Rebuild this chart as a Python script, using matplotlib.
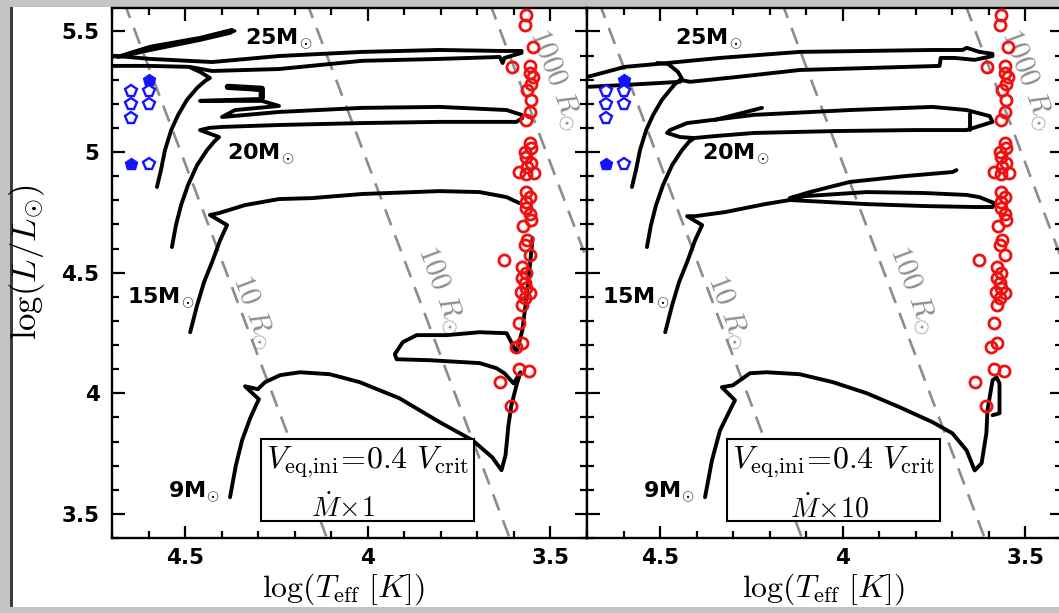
import numpy as np
import matplotlib
matplotlib.use('Agg')
import matplotlib.pyplot as plt
from matplotlib.patches import Rectangle, Polygon
from matplotlib.ticker import MultipleLocator, FixedLocator, FixedFormatter

plt.rcParams['mathtext.fontset'] = 'cm'
plt.rcParams['font.family'] = ['DejaVu Sans']
plt.rcParams['font.weight'] = 'bold'

# ------------------------------------------------------------------ data
# observed red supergiants (log Teff, log L)
rsg_logT = [3.568, 3.571, 3.549, 3.604, 3.557, 3.549, 3.557, 3.552, 3.563, 3.552,
            3.557, 3.566, 3.557, 3.552, 3.571, 3.566, 3.552, 3.563, 3.544, 3.585,
            3.566, 3.568, 3.557, 3.568, 3.568, 3.555, 3.552, 3.574, 3.563, 3.571,
            3.557, 3.626, 3.577, 3.566, 3.579, 3.571, 3.566, 3.582, 3.557, 3.571,
            3.577, 3.585, 3.593, 3.579, 3.585, 3.560, 3.637, 3.607]
rsg_logL = [5.568, 5.527, 5.436, 5.353, 5.357, 5.311, 5.328, 5.282, 5.257, 5.216,
            5.166, 5.133, 5.037, 5.017, 5.000, 4.979, 4.954, 4.938, 4.913, 4.917,
            4.909, 4.834, 4.813, 4.793, 4.768, 4.743, 4.718, 4.693, 4.635, 4.614,
            4.573, 4.552, 4.523, 4.498, 4.477, 4.456, 4.436, 4.419, 4.415, 4.394,
            4.365, 4.290, 4.191, 4.207, 4.100, 4.091, 4.046, 3.946]

# blue stars: filled and open pentagons
blue_filled_logT = [4.598, 4.648]
blue_filled_logL = [5.299, 4.950]
blue_open_logT = [4.648, 4.598, 4.648, 4.598, 4.648, 4.598]
blue_open_logL = [5.253, 5.253, 5.199, 5.199, 5.141, 4.950]

# constant radius lines
radii = [10, 100, 1000]
radius_labels = [r'$10\ R_{\odot}$', r'$100\ R_{\odot}$', r'$1000\ R_{\odot}$']
radius_label_pos_left = [(4.317, 4.336), (3.803, 4.427), (3.489, 5.299)]
radius_label_pos_right = [(4.317, 4.336), (3.811, 4.427), (3.497, 5.299)]

mass_labels = ['25', '20', '15', '9']
mass_label_pos_left = [(4.336, 5.444), (4.385, 4.967), (4.658, 4.373), (4.546, 3.568)]
mass_label_pos_right = [(4.459, 5.444), (4.385, 4.967), (4.658, 4.373), (4.546, 3.568)]

# ---- tracks, panel 1 (Mdot x 1) ----
p1_m9 = [(4.377, 3.569), (4.361, 3.701), (4.344, 3.805), (4.322, 3.896), (4.306, 3.950),
         (4.298, 3.975), (4.336, 4.029), (4.301, 4.017), (4.281, 4.046), (4.240, 4.075),
         (4.186, 4.087), (4.104, 4.079), (4.022, 4.046), (3.913, 3.979), (3.803, 3.880),
         (3.713, 3.805), (3.659, 3.734), (3.634, 3.681), (3.623, 3.743), (3.615, 3.867),
         (3.607, 3.950), (3.593, 4.033), (3.582, 4.087), (3.601, 4.041), (3.626, 4.083),
         (3.648, 4.104), (3.694, 4.125), (3.831, 4.137), (3.921, 4.141), (3.926, 4.162),
         (3.904, 4.212), (3.866, 4.241), (3.784, 4.241), (3.694, 4.253), (3.620, 4.249),
         (3.593, 4.170), (3.577, 4.261), (3.563, 4.427), (3.549, 4.643)]
p1_m15 = [(4.486, 4.253), (4.467, 4.365), (4.448, 4.461), (4.426, 4.544), (4.404, 4.635),
          (4.385, 4.697), (4.432, 4.739), (4.407, 4.747), (4.336, 4.780), (4.243, 4.805),
          (4.153, 4.809), (4.016, 4.826), (3.803, 4.838), (3.694, 4.834), (3.620, 4.813),
          (3.585, 4.788)]
p1_m20 = [(4.536, 4.606), (4.525, 4.697), (4.511, 4.780), (4.492, 4.863), (4.467, 4.946),
          (4.440, 5.008), (4.421, 5.042), (4.407, 5.062), (4.459, 5.091), (4.434, 5.100),
          (4.399, 5.104), (4.243, 5.112), (4.016, 5.120), (3.803, 5.125), (3.639, 5.125),
          (3.593, 5.125), (3.577, 5.141), (3.579, 5.154), (3.620, 5.174), (3.803, 5.187),
          (4.016, 5.183), (4.243, 5.166), (4.399, 5.145), (4.363, 5.174), (4.243, 5.191),
          (4.290, 5.212), (4.459, 5.212), (4.290, 5.220), (4.290, 5.256), (4.383, 5.274)]
p1_m20_blob = [(4.383, 5.270), (4.290, 5.262), (4.290, 5.225)]
p1_m25_ms = [(4.577, 4.855), (4.566, 4.925), (4.555, 5.008), (4.538, 5.091), (4.519, 5.154),
             (4.495, 5.216), (4.467, 5.266), (4.445, 5.295), (4.432, 5.307), (4.459, 5.332),
             (4.489, 5.353), (4.596, 5.357), (4.719, 5.357)]
p1_m25_lower = [(4.489, 5.353), (4.426, 5.336), (4.243, 5.344), (4.016, 5.378), (3.803, 5.386),
                (3.639, 5.394), (3.631, 5.369), (3.626, 5.390), (3.579, 5.411)]
p1_m25_upper = [(3.579, 5.419), (3.639, 5.419), (3.803, 5.423), (4.016, 5.415), (4.243, 5.398),
                (4.426, 5.373), (4.596, 5.386), (4.694, 5.399), (4.715, 5.375), (4.705, 5.357)]
p1_m25_wedge = [(4.694, 5.394), (4.596, 5.440), (4.459, 5.477), (4.372, 5.510), (4.361, 5.502),
                (4.377, 5.490), (4.459, 5.461), (4.596, 5.419), (4.683, 5.390)]

# ---- tracks, panel 2 (Mdot x 10) ----
p2_m9 = [(4.377, 3.569), (4.358, 3.722), (4.336, 3.846), (4.309, 3.929), (4.295, 3.971),
         (4.331, 4.025), (4.301, 4.033), (4.254, 4.083), (4.208, 4.087), (4.118, 4.079),
         (4.027, 4.046), (3.934, 4.000), (3.844, 3.942), (3.754, 3.880), (3.700, 3.834),
         (3.661, 3.763), (3.639, 3.680), (3.620, 3.710), (3.607, 3.834), (3.604, 3.929),
         (3.590, 4.054), (3.579, 4.066), (3.571, 4.041), (3.571, 3.917), (3.590, 3.909)]
p2_m15 = [(4.486, 4.253), (4.467, 4.365), (4.448, 4.461), (4.426, 4.544), (4.404, 4.635),
          (4.385, 4.697), (4.426, 4.734), (4.404, 4.734), (4.322, 4.751), (4.213, 4.784),
          (4.145, 4.801), (3.934, 4.784), (3.776, 4.776), (3.639, 4.772), (3.590, 4.772),
          (3.585, 4.788), (3.626, 4.813), (3.661, 4.822), (3.776, 4.830), (3.934, 4.834),
          (4.104, 4.817), (4.145, 4.809), (4.090, 4.834), (3.981, 4.876), (3.831, 4.900),
          (3.700, 4.917), (3.689, 4.925)]
p2_m20 = [(4.536, 4.606), (4.525, 4.697), (4.511, 4.780), (4.492, 4.863), (4.467, 4.946),
          (4.440, 5.008), (4.421, 5.042), (4.407, 5.058), (4.350, 5.066), (4.243, 5.079),
          (4.016, 5.087), (3.803, 5.091), (3.661, 5.091), (3.590, 5.125), (3.598, 5.149),
          (3.661, 5.174), (3.754, 5.187), (3.981, 5.174), (4.243, 5.154), (4.426, 5.120),
          (4.473, 5.091), (4.481, 5.079), (4.445, 5.062), (4.407, 5.058)]
p2_m20_flag = [(4.350, 5.133), (4.221, 5.183)]
p2_m20_step = [(3.653, 5.158), (3.653, 5.091)]
p2_m25_ms = [(4.577, 4.855), (4.566, 4.925), (4.555, 5.008), (4.538, 5.091), (4.519, 5.154),
             (4.495, 5.216), (4.473, 5.257), (4.459, 5.282), (4.445, 5.299), (4.418, 5.291),
             (4.290, 5.311), (4.118, 5.340), (3.913, 5.349), (3.735, 5.357), (3.732, 5.390),
             (3.694, 5.390), (3.639, 5.382), (3.590, 5.398)]
p2_m25_upper = [(3.590, 5.407), (3.626, 5.415), (3.661, 5.432), (3.672, 5.423), (3.754, 5.423),
                (4.118, 5.415), (4.336, 5.390), (4.508, 5.365), (4.596, 5.353), (4.700, 5.311),
                (4.716, 5.290)]
p2_m25_lower = [(4.716, 5.282), (4.700, 5.270), (4.596, 5.278), (4.445, 5.291)]
p2_m25_hook = [(4.508, 5.369), (4.478, 5.365), (4.451, 5.332), (4.440, 5.303)]

# text box contents
box_line1 = r'$V_{\mathrm{eq{,}ini}}\!=\!0.4\ V_{\mathrm{crit}}$'
box_line2 = [r'$\dot{M}\!\times\!1$', r'$\dot{M}\!\times\!10$']

# ------------------------------------------------------------------ figure
W, H = 1059, 613
fig = plt.figure(figsize=(W / 100, H / 100), dpi=100, facecolor='#c4c4c4')
fig.patches.append(Rectangle((13 / W, 6 / H), 1 - 13 / W, 600 / H, transform=fig.transFigure,
                             facecolor='white', edgecolor='none', zorder=-5))
fig.patches.append(Rectangle((9.5 / W, 6 / H), 3.5 / W, 600 / H, transform=fig.transFigure,
                             facecolor='#3c3c3c', edgecolor='none', zorder=-5))

axL = fig.add_axes([112 / W, 75 / H, 475 / W, 530 / H])
axR = fig.add_axes([587 / W, 75 / H, 475 / W, 530 / H])

TRACK_LW = 2.8
track_kw = dict(color='black', solid_joinstyle='round', solid_capstyle='round', zorder=3)


def draw_track(ax, pts, lw=TRACK_LW):
    a = np.array(pts)
    ax.plot(a[:, 0], a[:, 1], lw=lw, **track_kw)


Tgrid = np.linspace(3.3, 4.8, 50)
for ax, lbl_pos, mpos, boxx, l2, l2x in [
        (axL, radius_label_pos_left, mass_label_pos_left, (3.710, 4.292), box_line2[0], 4.068),
        (axR, radius_label_pos_right, mass_label_pos_right, (3.735, 4.317), box_line2[1], 4.036)]:
    ax.set_xlim(4.7, 3.4)
    ax.set_ylim(3.40, 5.597)
    ax.set_facecolor('white')
    for s in ax.spines.values():
        s.set_linewidth(1.7)
    # radius lines
    for R in radii:
        Lr = 2 * np.log10(R) + 4 * (Tgrid - 3.7617)
        ax.plot(Tgrid, Lr, color='#8c8c8c', lw=1.9, dashes=(6.5, 4.0), zorder=1)
    # observations
    ax.plot(rsg_logT, rsg_logL, 'o', ms=8, mfc='none', mec='#f01010', mew=2.0, zorder=5)
    ax.plot(blue_open_logT, blue_open_logL, 'p', ms=8.5, mfc='white', mec='#1414ff', mew=1.7, zorder=5)
    ax.plot(blue_filled_logT, blue_filled_logL, 'p', ms=9, mfc='#1414ff', mec='#1414ff', mew=1.0, zorder=5)
    # box
    ax.add_patch(Rectangle((boxx[0], 3.469), boxx[1] - boxx[0], 0.340, facecolor='white',
                           edgecolor='black', lw=1.5, zorder=6))
    ax.text((boxx[0] + boxx[1]) / 2, 3.712, box_line1, fontsize=23, ha='center', va='center', zorder=7)
    ax.text(l2x, 3.522, l2, fontsize=20, ha='center', va='center', zorder=7)
    # mass labels
    for m, (tx, ly) in zip(mass_labels, mpos):
        ax.text(tx, ly, m + r'M$_{\odot}$', fontsize=16, fontweight='bold', ha='left', va='baseline', zorder=7)
    # ticks
    ax.xaxis.set_major_locator(FixedLocator([3.5, 4.0, 4.5]))
    ax.xaxis.set_major_formatter(FixedFormatter(['3.5', '4', '4.5']))
    ax.xaxis.set_minor_locator(MultipleLocator(0.1))
    ax.yaxis.set_major_locator(FixedLocator([3.5, 4.0, 4.5, 5.0, 5.5]))
    ax.yaxis.set_major_formatter(FixedFormatter(['3.5', '4', '4.5', '5', '5.5']))
    ax.yaxis.set_minor_locator(MultipleLocator(0.1))
    ax.tick_params(which='both', direction='in', top=True, right=True, width=1.6,
                   labelsize=15.5, pad=9)
    ax.tick_params(axis='x', which='both', pad=7)
    ax.tick_params(which='major', length=9)
    ax.tick_params(which='minor', length=5)

    # radius labels rotated along lines
    fig.canvas.draw()
    for lab, (tx, ly) in zip(radius_labels, lbl_pos):
        p1 = ax.transData.transform((tx, ly))
        p2 = ax.transData.transform((tx - 0.1, ly - 0.4))
        ang = np.degrees(np.arctan2(p2[1] - p1[1], p2[0] - p1[0]))
        ax.text(tx, ly, lab, fontsize=21, color='#8c8c8c', rotation=ang, rotation_mode='anchor',
                ha='center', va='center', zorder=2)

axR.tick_params(labelleft=False)

# tracks
for pts in [p1_m9, p1_m15, p1_m20, p1_m25_ms, p1_m25_lower, p1_m25_upper]:
    draw_track(axL, pts)
draw_track(axL, p1_m20_blob, lw=4.5)
axL.add_patch(Polygon(p1_m25_wedge, closed=True, facecolor='black', edgecolor='black', lw=1.5, zorder=3))

for pts in [p2_m9, p2_m15, p2_m20, p2_m20_flag, p2_m20_step, p2_m25_ms, p2_m25_upper,
            p2_m25_lower, p2_m25_hook]:
    draw_track(axR, pts)

# axis labels
fig.text(27 / W, 1 - 262 / H, r'$\log(L/L_{\odot})$', fontsize=25, rotation=90, ha='center', va='center')
fig.text(343 / W, 1 - 589 / H, r'$\log(T_{\mathrm{eff}}\ [K])$', fontsize=23, ha='center', va='center')
fig.text(823 / W, 1 - 589 / H, r'$\log(T_{\mathrm{eff}}\ [K])$', fontsize=23, ha='center', va='center')

fig.savefig('out.png', dpi=100, facecolor=fig.get_facecolor())
